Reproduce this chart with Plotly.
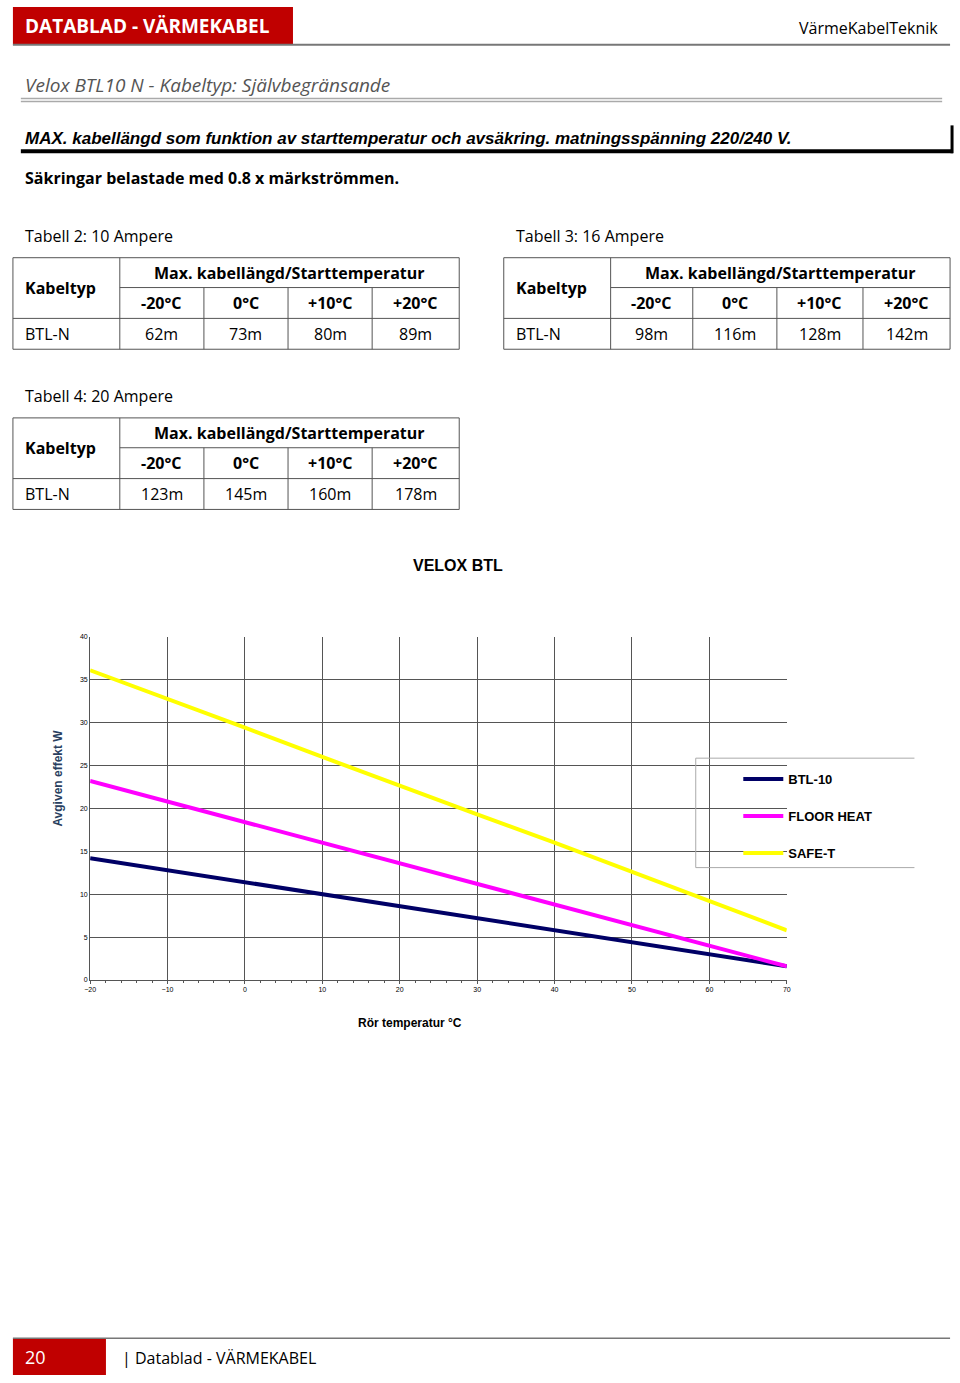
import plotly.graph_objects as go

temps = [-20, -10, 0, 10, 20, 30, 40, 50, 60, 70]
btl10 = [14.2, 12.8, 11.4, 10.0, 8.6, 7.2, 5.8, 4.4, 3.0, 1.6]
floor_heat = [23.2, 20.8, 18.4, 16.0, 13.6, 11.2, 8.8, 6.4, 4.0, 1.6]
safe_t = [36.1, 32.8, 29.4, 26.0, 22.6, 19.3, 16.0, 12.6, 9.2, 5.8]

start_temps = ["-20°C", "0°C", "+10°C", "+20°C"]
len_10a = ["62m", "73m", "80m", "89m"]
len_16a = ["98m", "116m", "128m", "142m"]
len_20a = ["123m", "145m", "160m", "178m"]

W, H = 960, 1383
CAL = "Open Sans"
ARIAL = "Liberation Sans"


def px(x):
    return x / W


def py(y):
    return 1 - y / H


shapes = []
annots = []


def rect(x0, y0, x1, y1, fill, line=None, lw=0):
    shapes.append(dict(type="rect", xref="paper", yref="paper", x0=px(x0), x1=px(x1), y0=py(y1), y1=py(y0),
                       fillcolor=fill, line=dict(color=line or fill, width=lw), layer="below"))


def hline(x0, x1, y, color, w=1):
    shapes.append(dict(type="line", xref="paper", yref="paper", x0=px(x0), x1=px(x1), y0=py(y), y1=py(y),
                       line=dict(color=color, width=w)))


def vline(x, y0, y1, color, w=1):
    shapes.append(dict(type="line", xref="paper", yref="paper", x0=px(x), x1=px(x), y0=py(y0), y1=py(y1),
                       line=dict(color=color, width=w)))


def text(x, y, s, size=16, color="black", family=CAL, anchor="left", weight="normal", style="normal"):
    annots.append(dict(xref="paper", yref="paper", x=px(x), y=py(y), text=s, showarrow=False,
                       xanchor=anchor, yanchor="middle",
                       font=dict(size=size, color=color, family=family, weight=weight, style=style)))


# header
rect(7, 3, 290, 41, "#c00000")
text(17, 22, "DATABLAD - VÄRMEKABEL", 19, "white", weight="bold")
hline(7, 954, 41, "#777777", 2)
text(944, 24, "VärmeKabelTeknik", 16, anchor="right")
text(17, 81, "Velox BTL10 N - Kabeltyp: Självbegränsande", 19, "#555555", style="italic")
hline(15, 946, 95, "#aaaaaa", 1.5)
hline(15, 946, 98, "#aaaaaa", 1.5)
text(17, 135, "MAX. kabellängd som funktion av starttemperatur och avsäkring. matningsspänning 220/240 V.", 17,
     family=ARIAL, weight="bold", style="italic")
hline(15, 957, 148, "black", 4)
vline(956, 122, 150, "black", 3)
text(17, 175, "Säkringar belastade med 0.8 x märkströmmen.", 16, weight="bold")


def table(x0, y0, cols, title, values):
    text(x0 + 10, y0 - 22, title, 16)
    r = [y0, y0 + 30, y0 + 61, y0 + 92]
    hline(x0, cols[-1], r[0], "#555555")
    hline(cols[0], cols[-1], r[1], "#555555")
    hline(x0, cols[-1], r[2], "#555555")
    hline(x0, cols[-1], r[3], "#555555")
    vline(x0, r[0], r[3], "#555555")
    vline(cols[-1], r[0], r[3], "#555555")
    vline(cols[0], r[0], r[3], "#555555")
    for c in cols[1:-1]:
        vline(c, r[1], r[3], "#555555")
    text(x0 + 10, (r[0] + r[2]) / 2, "Kabeltyp", 16, weight="bold")
    text((cols[0] + cols[-1]) / 2, (r[0] + r[1]) / 2, "Max. kabellängd/Starttemperatur", 16, anchor="center",
         weight="bold")
    text(x0 + 10, (r[2] + r[3]) / 2, "BTL-N", 16)
    for i in range(4):
        cx = (cols[i] + cols[i + 1]) / 2
        text(cx, (r[1] + r[2]) / 2, start_temps[i], 16, anchor="center", weight="bold")
        text(cx, (r[2] + r[3]) / 2, values[i], 16, anchor="center")


table(7, 255, [115, 200, 285, 370, 458], "Tabell 2: 10 Ampere", len_10a)
table(503, 255, [611, 694, 779, 866, 954], "Tabell 3: 16 Ampere", len_16a)
table(7, 416, [115, 200, 285, 370, 458], "Tabell 4: 20 Ampere", len_20a)

# chart texts
text(457, 564, "VELOX BTL", 16, family=ARIAL, anchor="center", weight="bold")
text(408, 1024, "Rör temperatur °C", 12, family=ARIAL, anchor="center", weight="bold")
annots.append(dict(xref="paper", yref="paper", x=px(44), y=py(778), text="Avgiven effekt W", showarrow=False,
                   textangle=-90, font=dict(size=12, family=ARIAL, weight="bold")))

# legend box
hline(697, 918, 758, "#aaaaaa")
hline(697, 918, 868, "#aaaaaa")
vline(697, 758, 868, "#aaaaaa")

# footer
rect(7, 1341, 101, 1378, "#c00000")
hline(7, 954, 1341, "#777777", 1.5)
text(17, 1360, "20", 18, "white")
text(115, 1361, "| Datablad - VÄRMEKABEL", 16)

fig = go.Figure()
for name, ys, col in [("BTL-10", btl10, "#000066"), ("FLOOR HEAT", floor_heat, "#ff00ff"),
                      ("SAFE-T", safe_t, "#ffff00")]:
    fig.add_trace(go.Scatter(x=temps, y=ys, mode="lines", name=name, legendgroup=name,
                             line=dict(color=col, width=4)))

fig.update_layout(
    width=W, height=H, margin=dict(l=0, r=0, t=0, b=0), paper_bgcolor="white", plot_bgcolor="white",
    shapes=shapes, annotations=annots,
    xaxis=dict(domain=[px(85), px(789)], range=[-20, 70], dtick=10, showgrid=True, gridcolor="#555555",
               gridwidth=1, showline=True, linecolor="#555555", ticks="outside", ticklen=3, tickcolor="#555555",
               minor=dict(dtick=2, ticks="outside", ticklen=2, tickcolor="#555555"),
               tickfont=dict(size=7, family=ARIAL, color="black"), zeroline=False),
    yaxis=dict(domain=[py(981), py(636)], range=[0, 40], dtick=5, showgrid=True, gridcolor="#555555",
               gridwidth=1, showline=True, linecolor="#555555", ticks="",
               tickfont=dict(size=7, family=ARIAL, color="black"), zeroline=False),
    legend=dict(x=px(740), y=py(764), xanchor="left", yanchor="top", bgcolor="rgba(0,0,0,0)",
                font=dict(size=13, family=ARIAL, weight="bold", color="black"), tracegroupgap=17, itemwidth=40),
)

fig.write_html("out.html", config={"displayModeBar": False})
with open("out.html", encoding="utf-8") as f:
    html = f.read()
html = html.replace("<body>", '<body style="margin:0;overflow:hidden">', 1)
with open("out.html", "w", encoding="utf-8") as f:
    f.write(html)
